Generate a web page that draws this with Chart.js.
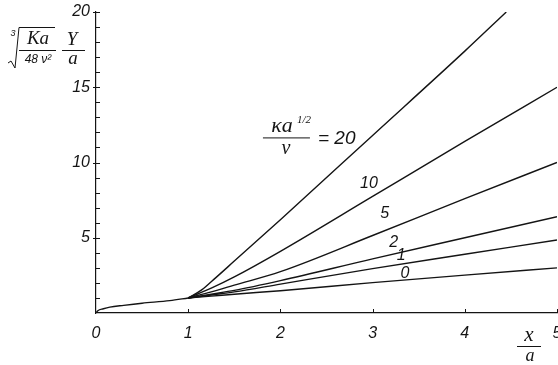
<!DOCTYPE html>
<html>
<head>
<meta charset="utf-8">
<script src="https://cdn.jsdelivr.net/npm/chart.js@4.4.0/dist/chart.umd.min.js"></script>
<style>
  html, body { margin: 0; padding: 0; background: #fff; overflow: hidden; }
  #wrap { width: 558px; height: 365px; }
</style>
</head>
<body>
<div id="wrap"><canvas id="chart" width="558" height="365"></canvas></div>
<script>
// common rise for x/a < 1
const baseX = [0, 0.02, 0.08, 0.15, 0.3, 0.5, 0.8, 1];
const baseY = [0, 0.15, 0.28, 0.39, 0.51, 0.65, 0.82, 1];

// fan of curves for x/a > 1, one per value of kappa a^(1/2) / nu
const k20X = [1, 1.15, 1.3, 1.5, 2, 3, 4, 4.45];
const k20Y = [1, 1.55, 2.35, 3.45, 6.2, 11.8, 17.4, 20];
const fanX = [1, 1.25, 1.5, 2, 3, 4, 5];
const k10Y = [1, 1.65, 2.4, 4.1, 7.75, 11.4, 15];
const k5Y  = [1, 1.4, 1.85, 2.75, 5.15, 7.6, 10];
const k2Y  = [1, 1.25, 1.5, 2.15, 3.6, 5.0, 6.4];
const k1Y  = [1, 1.2, 1.4, 1.92, 2.95, 3.9, 4.85];
const k0Y  = [1, 1.12, 1.25, 1.48, 2.02, 2.52, 3.0];

// curve labels, placed in data units
const curveLabels = ['10', '5', '2', '1', '0'];
const curveLabelX = [2.96, 3.13, 3.23, 3.31, 3.35];
const curveLabelY = [8.57, 6.58, 4.65, 3.79, 2.59];

const xTicks = [0, 1, 2, 3, 4, 5];
const yLabelled = [5, 10, 15, 20];

const pts = (xs, ys) => xs.map((v, i) => ({ x: v, y: ys[i] }));
const line = (data) => ({
  data,
  borderColor: '#141414',
  borderWidth: 1.4,
  pointRadius: 0,
  fill: false,
  cubicInterpolationMode: 'monotone'
});

const INK = '#141414';

function txt(ctx, s, x, y, font, align) {
  ctx.font = font;
  ctx.textAlign = align || 'center';
  ctx.textBaseline = 'middle';
  ctx.fillText(s, x, y);
}

const inkPlugin = {
  id: 'ink',
  afterDraw(chart) {
    const { ctx, chartArea: a, scales: { x, y } } = chart;
    ctx.save();
    ctx.strokeStyle = INK;
    ctx.fillStyle = INK;
    ctx.lineWidth = 1;

    // inward ticks
    y.ticks.forEach(t => {
      if (t.value === 0) return;
      const py = Math.round(y.getPixelForValue(t.value)) + 0.5;
      const major = t.value % 5 === 0;
      ctx.beginPath();
      ctx.moveTo(a.left - (major ? 3 : 0), py);
      ctx.lineTo(a.left + 4, py);
      ctx.stroke();
    });
    x.ticks.forEach(t => {
      if (t.value === 0) return;
      const px = Math.round(x.getPixelForValue(t.value)) + 0.5;
      ctx.beginPath();
      ctx.moveTo(px, a.bottom);
      ctx.lineTo(px, a.bottom - 4);
      ctx.stroke();
    });

    // curve labels
    const lf = 'italic 16px "Liberation Sans"';
    curveLabels.forEach((s, i) => {
      txt(ctx, s, x.getPixelForValue(curveLabelX[i]), y.getPixelForValue(curveLabelY[i]), lf);
    });

    // kappa a^(1/2) / nu = 20
    const ex = x.getPixelForValue(2.70), ey = y.getPixelForValue(11.6);
    txt(ctx, '= 20', ex - 27, ey, 'italic 19px "Liberation Sans"', 'left');
    const fx = ex - 59, fy = ey - 1;
    txt(ctx, '\u03BAa', fx - 4, fy - 11, 'italic 22px "Liberation Serif"');
    txt(ctx, '1/2', fx + 18, fy - 17, 'italic 11px "Liberation Serif"');
    ctx.beginPath();
    ctx.moveTo(fx - 23, fy + 0.5);
    ctx.lineTo(fx + 24, fy + 0.5);
    ctx.stroke();
    txt(ctx, '\u03BD', fx, fy + 11, 'italic 20px "Liberation Serif"');

    // y axis title: cube root (Ka / 48 nu^2) * Y / a
    txt(ctx, '3', 13, 33, 'italic 9px "Liberation Sans"');
    ctx.beginPath();
    ctx.moveTo(8, 63);
    ctx.lineTo(11, 61);
    ctx.lineTo(15, 68);
    ctx.lineTo(19, 27.5);
    ctx.lineTo(55, 27.5);
    ctx.stroke();
    txt(ctx, 'Ka', 38, 39, 'italic 19px "Liberation Serif"');
    ctx.beginPath();
    ctx.moveTo(19, 50.5);
    ctx.lineTo(56, 50.5);
    ctx.stroke();
    txt(ctx, '48 \u03BD\u00B2', 38, 60, 'italic 12px "Liberation Sans"');
    txt(ctx, 'Y', 72, 40, 'italic 19px "Liberation Serif"');
    ctx.beginPath();
    ctx.moveTo(62, 50.5);
    ctx.lineTo(85, 50.5);
    ctx.stroke();
    txt(ctx, 'a', 73, 59, 'italic 19px "Liberation Serif"');

    // x axis title: x / a
    txt(ctx, 'x', 529, 335, 'italic 21px "Liberation Serif"');
    ctx.beginPath();
    ctx.moveTo(517, 346.5);
    ctx.lineTo(541, 346.5);
    ctx.stroke();
    txt(ctx, 'a', 530, 356, 'italic 18px "Liberation Serif"');

    ctx.restore();
  }
};

new Chart(document.getElementById('chart'), {
  type: 'line',
  data: {
    datasets: [
      line(pts(baseX, baseY)),
      line(pts(k20X, k20Y)),
      line(pts(fanX, k10Y)),
      line(pts(fanX, k5Y)),
      line(pts(fanX, k2Y)),
      line(pts(fanX, k1Y)),
      line(pts(fanX, k0Y))
    ]
  },
  options: {
    responsive: false,
    devicePixelRatio: 1,
    animation: false,
    layout: { padding: { top: 12, right: 1, left: 0, bottom: 0 } },
    plugins: { legend: { display: false }, tooltip: { enabled: false } },
    scales: {
      x: {
        type: 'linear',
        min: 0, max: 5,
        afterBuildTicks: s => { s.ticks = xTicks.map(v => ({ value: v })); },
        afterFit: s => { s.height = 52; s.paddingLeft = 0; s.paddingRight = 0; },
        grid: { display: false, drawTicks: false },
        border: { display: true, color: INK, width: 1.2 },
        ticks: {
          padding: 11,
          color: INK,
          font: { family: 'Liberation Sans', style: 'italic', size: 16 },
          maxRotation: 0
        }
      },
      y: {
        type: 'linear',
        min: 0, max: 20,
        afterFit: s => { s.width = 96; s.paddingTop = 0; s.paddingBottom = 0; },
        grid: { display: false, drawTicks: false },
        border: { display: true, color: INK, width: 1.2 },
        ticks: {
          stepSize: 1,
          autoSkip: false,
          padding: 6,
          color: INK,
          font: { family: 'Liberation Sans', style: 'italic', size: 16 },
          callback: v => (yLabelled.includes(v) ? String(v) : '')
        }
      }
    }
  },
  plugins: [inkPlugin]
});
</script>
</body>
</html>
